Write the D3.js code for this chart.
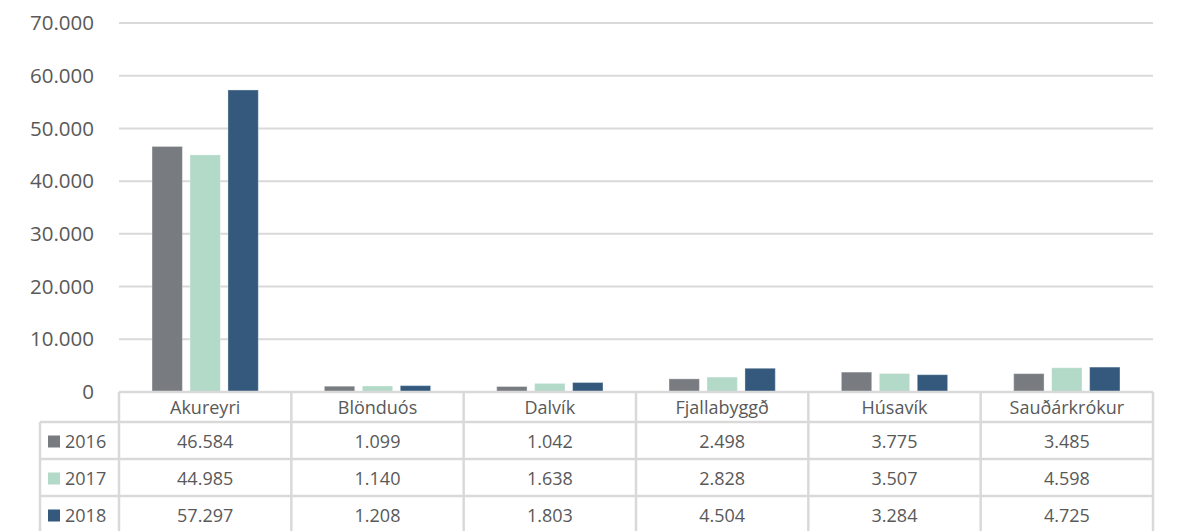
<!DOCTYPE html>
<html><head><meta charset="utf-8">
<script src="https://cdn.jsdelivr.net/npm/d3@7"></script>
<style>body{margin:0;background:#fff}text{font-family:"Open Sans","Noto Sans",sans-serif;fill:#595959}</style>
</head><body><svg id="c" width="1183" height="531"></svg>
<script>
const categories = ["Akureyri","Blönduós","Dalvík","Fjallabyggð","Húsavík","Sauðárkrókur"];
const seriesNames = ["2016","2017","2018"];
const v2016 = [46584,1099,1042,2498,3775,3485];
const v2017 = [44985,1140,1638,2828,3507,4598];
const v2018 = [57297,1208,1803,4504,3284,4725];
const colors = ["#787c80","#b3d9c8","#34597d"];
const yTicks = [0,10000,20000,30000,40000,50000,60000,70000];
const series = [v2016,v2017,v2018];

(function(){
const svg = d3.select("#c");
const pL = 119, pR = 1153, pT = 23, pB = 392;
const x = d3.scaleBand().domain(categories).range([pL,pR]);
const xs = d3.scaleBand().domain(seriesNames).range([0,x.bandwidth()]).paddingInner(0.2).paddingOuter(0.87);
const y = d3.scaleLinear().domain([0,70000]).range([pB,pT]);
const fmt = d => d3.format(",")(d).replace(/,/g,".");

svg.append("g").selectAll("line").data(yTicks.filter(d=>d>0)).join("line")
  .attr("x1",pL).attr("x2",pR).attr("y1",d=>y(d)).attr("y2",d=>y(d))
  .attr("stroke","#d9d9d9").attr("stroke-width",2);
svg.append("g").selectAll("text").data(yTicks).join("text")
  .attr("x",94).attr("y",d=>y(d)).attr("dy","0.35em").attr("text-anchor","end")
  .attr("font-size",20.5).text(fmt);

series.forEach((vals,si)=>{
  svg.append("g").selectAll("rect").data(vals).join("rect")
    .attr("x",(d,i)=>x(categories[i])+xs(seriesNames[si]))
    .attr("width",xs.bandwidth())
    .attr("y",d=>y(d)).attr("height",d=>pB-y(d))
    .attr("fill",colors[si]).attr("stroke","rgba(255,255,255,0.35)").attr("stroke-width",1);
});

const rowTop = [392,422,459,496,533];
const legL = 40;
const g = svg.append("g");
const lc = "#d9d9d9", lw = 2.5;
rowTop.forEach((ry,i)=>{
  g.append("line").attr("x1",i===0?pL:legL).attr("x2",pR).attr("y1",ry).attr("y2",ry)
   .attr("stroke",lc).attr("stroke-width",lw);
});
const vx = [pL].concat(categories.map(c=>x(c)+x.bandwidth()));
vx.forEach(vxx=>{
  g.append("line").attr("x1",vxx).attr("x2",vxx).attr("y1",rowTop[0]).attr("y2",531)
   .attr("stroke",lc).attr("stroke-width",lw);
});
g.append("line").attr("x1",legL).attr("x2",legL).attr("y1",rowTop[1]).attr("y2",531)
  .attr("stroke",lc).attr("stroke-width",lw);
g.selectAll("text.h").data(categories).join("text").attr("class","h")
  .attr("x",d=>x(d)+x.bandwidth()/2).attr("y",(rowTop[0]+rowTop[1])/2+1).attr("dy","0.35em")
  .attr("text-anchor","middle").attr("font-size",18).text(d=>d);
series.forEach((vals,si)=>{
  const cy = (rowTop[si+1]+rowTop[si+2])/2 + 1;
  g.append("rect").attr("x",48).attr("y",cy-6).attr("width",12).attr("height",12).attr("fill",colors[si]);
  g.append("text").attr("x",65).attr("y",cy).attr("dy","0.35em").attr("font-size",18).text(seriesNames[si]);
  g.selectAll("text.v"+si).data(vals).join("text").attr("class","v"+si)
    .attr("x",(d,i)=>x(categories[i])+x.bandwidth()/2).attr("y",cy).attr("dy","0.35em")
    .attr("text-anchor","middle").attr("font-size",18).text(fmt);
});
})();
</script></body></html>
